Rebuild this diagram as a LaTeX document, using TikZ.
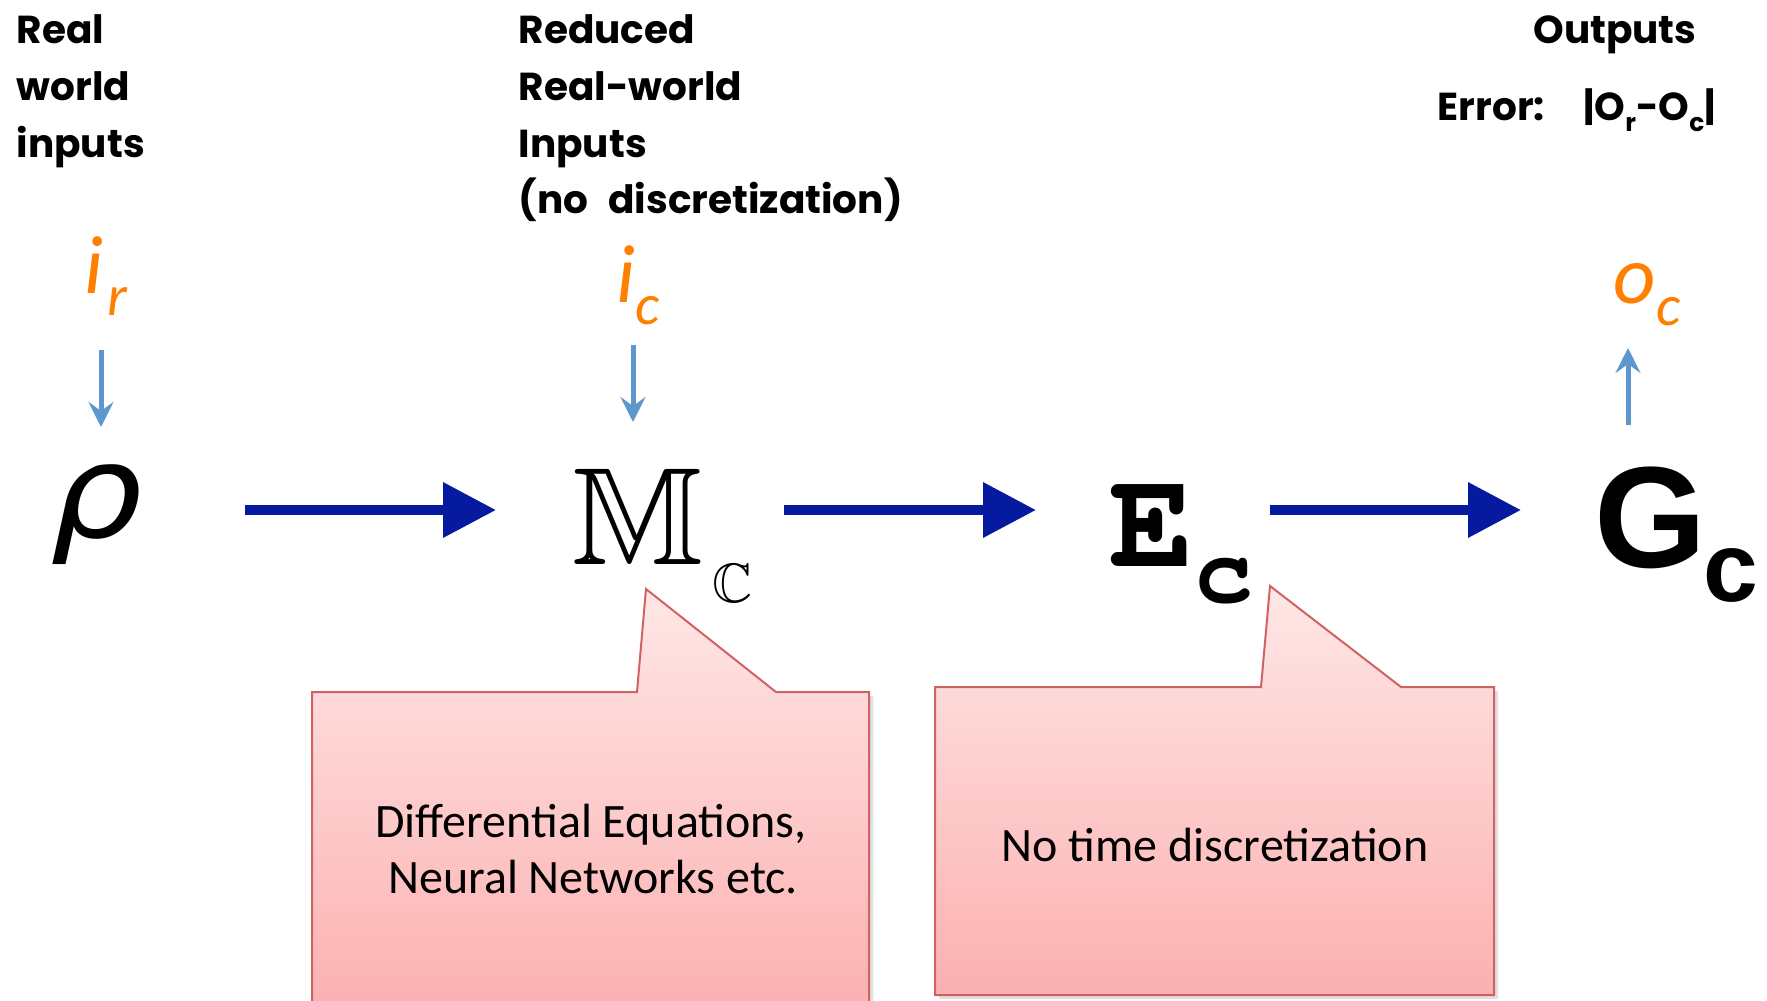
\documentclass[tikz,border=0pt]{standalone}
\usepackage{fontspec}
\usepackage{amssymb}
\usetikzlibrary{arrows.meta}

\newfontfamily\handfont{Poppins}[WordSpace=2.4]
\newfontfamily\calibrifont{Carlito}
\newfontfamily\rhofont{DejaVu Sans}
\newfontfamily\arialfont{Liberation Sans}
\newcommand\courierbold{\fontencoding{OT1}\fontfamily{pcr}\fontseries{b}\fontshape{n}\selectfont}
\newcommand\handsub{\fontsize{7.1pt}{8pt}\selectfont}
\newcommand\sigsub{\fontsize{16.5pt}{17pt}\selectfont}

\definecolor{flowblue}{RGB}{6,26,160}
\definecolor{feedblue}{RGB}{94,150,206}
\definecolor{signal}{RGB}{255,128,0}
\definecolor{notetop}{RGB}{255,231,231}
\definecolor{notebottom}{RGB}{252,176,176}
\definecolor{noteedge}{RGB}{208,98,98}

\tikzset{
  hand/.style={font=\handfont\bfseries\fontsize{11.1pt}{14pt}\selectfont, inner sep=0, anchor=base west},
  sig/.style={font=\calibrifont\itshape\fontsize{23.5pt}{24pt}\selectfont, text=signal, inner sep=0, anchor=base west},
  symb/.style={inner sep=0, anchor=base west},
  notetext/.style={font=\calibrifont\fontsize{13.65pt}{16pt}\selectfont, inner sep=0, anchor=base},
  note/.style={top color=notetop, bottom color=notebottom, draw=noteedge, line width=0.2mm, line join=miter},
  noteshadow/.style={fill=black, opacity=0.12},
  flow/.style={draw=flowblue, line width=1mm, -{Triangle[length=5.3mm,width=5.3mm]}, color=flowblue},
  flowshadow/.style={draw=black, line width=1mm, -{Triangle[length=5.3mm,width=5.3mm]}, color=black, opacity=0.12},
  feed/.style={draw=feedblue, line width=0.5mm, -{Stealth[length=2.5mm,width=2.5mm,inset=0.9mm]}, color=feedblue},
}

\begin{document}
\begin{tikzpicture}[x=0.1mm, y=-0.1mm]
\clip (0,0) rectangle (1767,1000);

% soft shadows under the callout boxes
\fill[noteshadow] (316,696) -- (641,696) -- (650,593) -- (780,696) -- (873,696)
  -- (873,1016) -- (316,1016) -- cycle;
\fill[noteshadow] (939,691) -- (1265,691) -- (1274,590) -- (1405,691) -- (1498,691)
  -- (1498,999) -- (939,999) -- cycle;

% callout boxes
\shadedraw[note] (312,692) -- (637,692) -- (646,589) -- (776,692) -- (869,692)
  -- (869,1012) -- (312,1012) -- cycle;
\shadedraw[note] (935,687) -- (1261,687) -- (1270,586) -- (1401,687) -- (1494,687)
  -- (1494,995) -- (935,995) -- cycle;

% headings
\node[hand] (rw1) at (16,43) {Real};
\node[hand] (rw2) at (16,100) {world};
\node[hand] (rw3) at (16,157) {inputs};
\node[hand] (rr1) at (518,43) {Reduced};
\node[hand] (rr2) at (518,100) {Real-world};
\node[hand] (rr3) at (518,157) {Inputs};
\node[hand] (rr4) at (518,213) {(no discretization)};
\node[hand, anchor=base] (outs) at (1615,43) {Outputs};
\node[hand] (err) at (1437,120) {Error:\hspace{1.6mm} |O\raisebox{-3.4pt}{\handsub r}-O\raisebox{-3.4pt}{\handsub c}|};

% signals
\node[sig] (ir) at (84,293) {i\kern1pt\raisebox{-6.3pt}{\sigsub r}};
\node[sig] (ic) at (616,302) {i\raisebox{-6.3pt}{\sigsub c}};
\node[sig] (oc) at (1613,303) {o\raisebox{-6.3pt}{\sigsub c}};

% pipeline stages
\node[symb, font=\rhofont\itshape\fontsize{37pt}{37pt}\selectfont] (rho) at (50,537) {\scalebox{1.12}[1]{ρ}};
\node[symb] (M) at (572,564) {\fontsize{39.5pt}{40pt}\selectfont$\mathbb{M}$\kern2.4pt\raisebox{-11pt}{\fontsize{15.8pt}{16pt}\selectfont$\mathbb{C}$}};
\node[symb] (E) at (1109,566) {\courierbold\fontsize{40pt}{41pt}\selectfont E\raisebox{-10.5pt}{\fontsize{28pt}{29pt}\selectfont c}};
\node[symb, font=\arialfont\bfseries] (G) at (1594,567) {\fontsize{41pt}{41pt}\selectfont G\kern-1pt\raisebox{-9.7pt}{\fontsize{28pt}{28pt}\selectfont c}};

% callout texts
\node[notetext] (n1a) at (591,837) {Differential Equations,};
\node[notetext] (n1b) at (593,893) {Neural Networks etc.};
\node[notetext] (n2) at (1215,861) {No time discretization};

% arrow end points
\coordinate (ir-tail) at (101,350);
\coordinate (rho-in) at (101,427);
\coordinate (ic-tail) at (633,345);
\coordinate (M-in) at (633,422);
\coordinate (G-out) at (1628,425);
\coordinate (oc-in) at (1628,348);
\coordinate (rho-out) at (245,510);
\coordinate (M-left) at (496,510);
\coordinate (M-out) at (784,510);
\coordinate (E-left) at (1036,510);
\coordinate (E-out) at (1270,510);
\coordinate (G-left) at (1521,510);

% connectors
\draw[feed] (ir-tail) -- (rho-in);
\draw[feed] (ic-tail) -- (M-in);
\draw[feed] (G-out) -- (oc-in);
\begin{scope}[shift={(1.5,3)}]
  \draw[flowshadow] (rho-out) -- (M-left);
  \draw[flowshadow] (M-out) -- (E-left);
  \draw[flowshadow] (E-out) -- (G-left);
\end{scope}
\draw[flow] (rho-out) -- (M-left);
\draw[flow] (M-out) -- (E-left);
\draw[flow] (E-out) -- (G-left);
\end{tikzpicture}
\end{document}
